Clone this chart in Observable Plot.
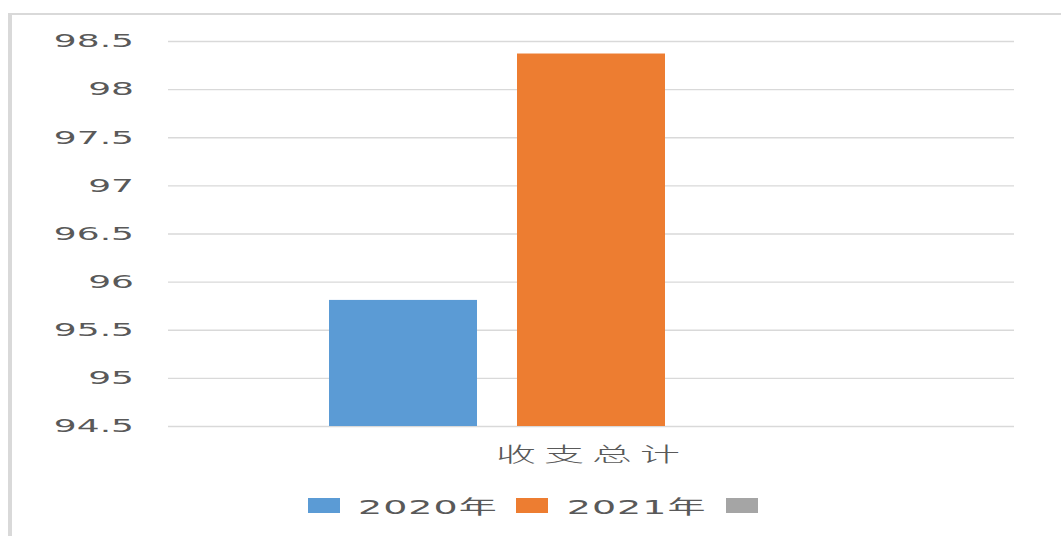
<!DOCTYPE html>
<html>
<head>
<meta charset="utf-8">
<script src="https://cdn.jsdelivr.net/npm/d3@7"></script>
<script src="https://cdn.jsdelivr.net/npm/@observablehq/plot@0.6"></script>
<style>
  html, body { margin: 0; padding: 0; background: #fff; width: 1061px; height: 536px; overflow: hidden; }
  #stretch { position: absolute; left: 0; top: 0; width: 530.5px; height: 536px; transform: scaleX(2); transform-origin: 0 0; }
  #frame { position: absolute; left: 4px; top: 13px; width: 540px; height: 560px; border-top: 2px solid #d9d9d9; border-left: 2px solid #d9d9d9; background: #fff; }
  #frame svg { display: block; }
  [aria-label^="fx-axis"] text { letter-spacing: 4px; font-weight: 300; }
  #legend { margin-left: 148px; margin-top: 14px; }
</style>
</head>
<body>
<div id="stretch"><div id="frame"><div id="chart"></div><div id="legend"></div></div></div>
<script>
// ---- data ----
const categories = ["收支总计"];
const seriesNames = ["2020年", "2021年", ""];
const seriesColors = ["#5B9BD5", "#ED7D31", "#A5A5A5"];
const values2020 = [95.81];
const values2021 = [98.37];
const valuesBlank = [null];
const yTicks = [94.5, 95, 95.5, 96, 96.5, 97, 97.5, 98, 98.5];

const seriesValues = [values2020, values2021, valuesBlank];
const data = [];
categories.forEach((c, i) => {
  seriesNames.forEach((s, j) => {
    data.push({category: c, series: s, value: seriesValues[j][i]});
  });
});

const font = '"DejaVu Sans", "Noto Sans CJK SC", sans-serif';

const chart = Plot.plot({
  width: 524,
  height: 460,
  marginLeft: 77.5,
  marginRight: 23.5,
  marginTop: 26,
  marginBottom: 49,
  style: {fontFamily: font, fontSize: "18px", color: "#595959", background: "transparent", overflow: "visible"},
  fx: {domain: categories, padding: 0, label: null},
  x: {domain: seriesNames, paddingInner: 0.2128, paddingOuter: 0.856, axis: null},
  y: {domain: [yTicks[0], yTicks[yTicks.length - 1]], label: null},
  color: {domain: seriesNames, range: seriesColors},
  marks: [
    Plot.gridY(yTicks, {stroke: "#d9d9d9", strokeOpacity: 1, strokeWidth: 1.3}),
    Plot.barY(data, {fx: "category", x: "series", y1: () => yTicks[0], y2: "value", fill: "series"}),
    Plot.axisY(yTicks, {tickSize: 0, tickPadding: 17.5, tickFormat: d => String(d), fontSize: 18, label: null}),
    Plot.axisFx({anchor: "bottom", tickSize: 0, tickPadding: 21, fontSize: 20, label: null, fontFamily: '"Noto Sans CJK SC", sans-serif'})
  ]
});
document.getElementById("chart").appendChild(chart);

const legend = Plot.legend({
  color: {type: "ordinal", domain: seriesNames, range: seriesColors},
  swatchWidth: 16,
  swatchHeight: 15
});
legend.style.justifyContent = "flex-start";
legend.style.fontFamily = font;
legend.style.fontSize = "19px";
legend.style.letterSpacing = "0.5px";
legend.style.color = "#595959";
legend.querySelectorAll("span").forEach(s => { s.style.marginRight = "9.5px"; });
legend.querySelectorAll("svg").forEach(s => { s.style.marginRight = "9px"; });
document.getElementById("legend").appendChild(legend);
</script>
</body>
</html>
